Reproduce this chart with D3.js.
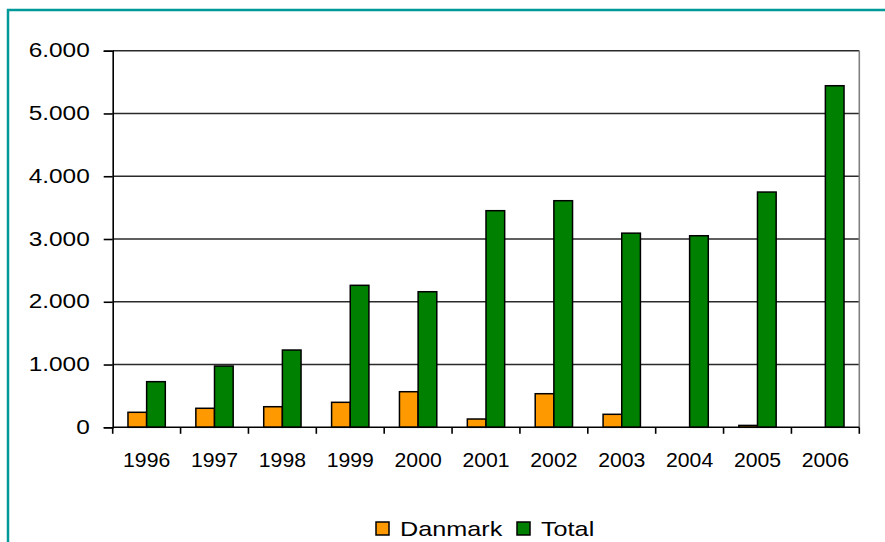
<!DOCTYPE html>
<html>
<head>
<meta charset="utf-8">
<script src="https://cdn.jsdelivr.net/npm/d3@7"></script>
<style>
  html, body { margin: 0; padding: 0; background: #ffffff; overflow: hidden; }
  svg { display: block; }
  text { font-family: "Liberation Sans", Arial, sans-serif; fill: #000; }
</style>
</head>
<body>
<svg id="chart" width="885" height="542"></svg>
<script>
// ---- data ----
const years = ["1996","1997","1998","1999","2000","2001","2002","2003","2004","2005","2006"];
const seriesNames = ["Danmark", "Total"];
const danmark = [239, 303, 328, 398, 567, 132, 535, 207, null, 30, null];
const total = [727, 976, 1231, 2262, 2160, 3451, 3610, 3093, 3052, 3748, 5442];
const yTickValues = [0, 1000, 2000, 3000, 4000, 5000, 6000];
const seriesColors = ["#FF9900", "#008000"];

// ---- layout ----
const W = 885, H = 542;
const plot = { left: 112.7, right: 859.3, top: 50.7, bottom: 427.3 };

const svg = d3.select("#chart");
svg.append("rect").attr("width", W).attr("height", H).attr("fill", "#ffffff");

// outer teal frame (right/bottom extend beyond the view)
svg.append("rect")
  .attr("x", 8).attr("y", 10).attr("width", 920).attr("height", 600)
  .attr("fill", "none").attr("stroke", "#009999").attr("stroke-width", 2.5);

const locale = d3.formatLocale({ decimal: ",", thousands: ".", grouping: [3], currency: ["", ""] });
const fmt = locale.format(",");

const y = d3.scaleLinear().domain([0, 6000]).range([plot.bottom, plot.top]);
const x0 = d3.scaleBand().domain(years).range([plot.left, plot.right]).padding(0);
const bw = x0.bandwidth();
const x1 = d3.scaleBand().domain(seriesNames).range([bw * 0.225, bw * 0.775]).padding(0);

function stretch(sel, factor) {
  sel.each(function () {
    const len = this.getComputedTextLength();
    d3.select(this).attr("textLength", len * factor).attr("lengthAdjust", "spacingAndGlyphs");
  });
}

// gridlines
svg.append("g").selectAll("line").data(yTickValues.filter(d => d > 0)).join("line")
  .attr("x1", plot.left).attr("x2", plot.right)
  .attr("y1", d => y(d)).attr("y2", d => y(d))
  .attr("stroke", "#2a2a2a").attr("stroke-width", 1.6);

// right plot border
svg.append("line")
  .attr("x1", plot.right).attr("x2", plot.right)
  .attr("y1", plot.top).attr("y2", plot.bottom)
  .attr("stroke", "#808080").attr("stroke-width", 1.6);

// bars
const rows = years.map((yr, i) => ({ year: yr, values: [danmark[i], total[i]] }));
const groups = svg.append("g").selectAll("g").data(rows).join("g")
  .attr("transform", d => `translate(${x0(d.year)},0)`);
groups.selectAll("rect")
  .data(d => d.values.map((v, k) => ({ name: seriesNames[k], value: v, k })).filter(e => e.value != null))
  .join("rect")
  .attr("x", d => x1(d.name))
  .attr("width", x1.bandwidth())
  .attr("y", d => y(d.value))
  .attr("height", d => y(0) - y(d.value))
  .attr("fill", d => seriesColors[d.k])
  .attr("stroke", "#000").attr("stroke-width", 1.5);

// y axis
const yAxis = svg.append("g")
  .attr("transform", `translate(${plot.left},0)`)
  .call(d3.axisLeft(y).tickValues(yTickValues).tickFormat(fmt).tickSize(9).tickPadding(14));
yAxis.select(".domain").attr("stroke", "#000").attr("stroke-width", 1.6);
yAxis.selectAll(".tick line").attr("stroke", "#000").attr("stroke-width", 1.6);
yAxis.selectAll(".tick text")
  .attr("font-family", "Liberation Sans, Arial, sans-serif")
  .attr("font-size", 20).attr("dy", "0.30em");
stretch(yAxis.selectAll(".tick text"), 1.22);

// x axis
const xAxis = svg.append("g")
  .attr("transform", `translate(0,${plot.bottom})`)
  .call(d3.axisBottom(x0).tickSize(0).tickPadding(26));
xAxis.select(".domain").remove();
xAxis.selectAll(".tick text")
  .attr("font-family", "Liberation Sans, Arial, sans-serif")
  .attr("font-size", 20);
stretch(xAxis.selectAll(".tick text"), 1.06);

svg.append("line")
  .attr("x1", plot.left).attr("x2", plot.right)
  .attr("y1", plot.bottom).attr("y2", plot.bottom)
  .attr("stroke", "#000").attr("stroke-width", 1.6);
const boundaries = years.map(d => x0(d)).concat([plot.right]);
svg.append("g").selectAll("line").data(boundaries).join("line")
  .attr("x1", d => d).attr("x2", d => d)
  .attr("y1", plot.bottom).attr("y2", plot.bottom + 6.5)
  .attr("stroke", "#000").attr("stroke-width", 1.6);

// legend
const legend = svg.append("g").attr("transform", "translate(376,522)");
const items = [
  { name: seriesNames[0], color: seriesColors[0], dx: 0 },
  { name: seriesNames[1], color: seriesColors[1], dx: 141 }
];
const li = legend.selectAll("g").data(items).join("g")
  .attr("transform", d => `translate(${d.dx},0)`);
li.append("rect").attr("width", 13).attr("height", 13)
  .attr("fill", d => d.color).attr("stroke", "#000").attr("stroke-width", 1.5);
const lt = li.append("text").attr("x", 24).attr("y", 14)
  .attr("font-size", 21).text(d => d.name);
stretch(lt, 1.2);
</script>
</body>
</html>
